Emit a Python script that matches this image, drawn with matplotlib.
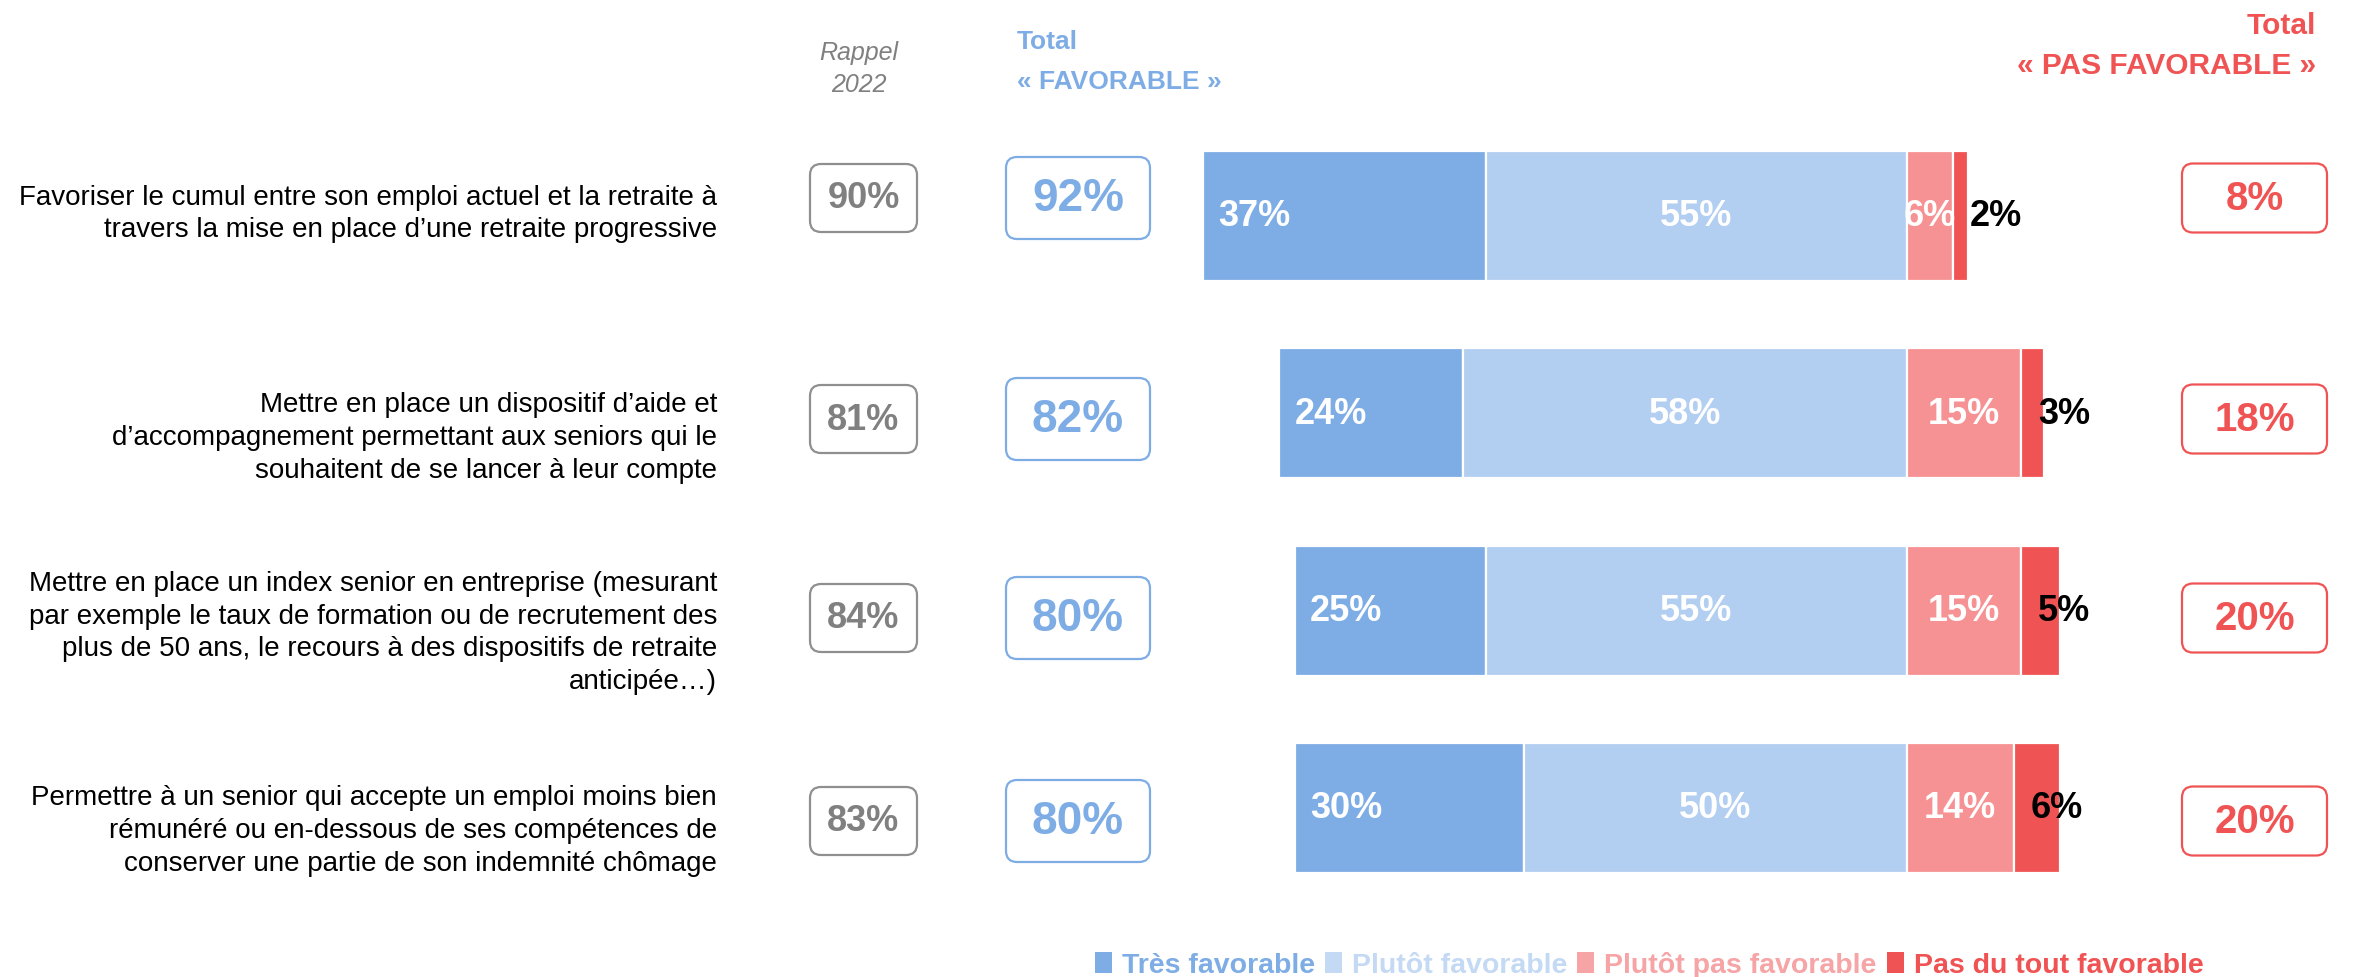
import numpy as np
import matplotlib
matplotlib.use("Agg")
import matplotlib.pyplot as plt
from matplotlib.patches import FancyBboxPatch, Patch

plt.rcParams["font.family"] = ["Liberation Sans", "DejaVu Sans"]

# ---- data -------------------------------------------------------------
questions = [
    "Favoriser le cumul entre son emploi actuel et la retraite à\n"
    "travers la mise en place d’une retraite progressive",
    "Mettre en place un dispositif d’aide et\n"
    "d’accompagnement permettant aux seniors qui le\n"
    "souhaitent de se lancer à leur compte",
    "Mettre en place un index senior en entreprise (mesurant\n"
    "par exemple le taux de formation ou de recrutement des\n"
    "plus de 50 ans, le recours à des dispositifs de retraite\n"
    "anticipée…)",
    "Permettre à un senior qui accepte un emploi moins bien\n"
    "rémunéré ou en-dessous de ses compétences de\n"
    "conserver une partie de son indemnité chômage",
]
tres_favorable = [37, 24, 25, 30]
plutot_favorable = [55, 58, 55, 50]
plutot_pas_favorable = [6, 15, 15, 14]
pas_du_tout_favorable = [2, 3, 5, 6]
rappel_2022 = [90, 81, 84, 83]

series_names = ["Très favorable", "Plutôt favorable",
                "Plutôt pas favorable", "Pas du tout favorable"]

# ---- styling ----------------------------------------------------------
C_TRES = "#7EADE6"
C_PLUTOT = "#B2CEF1"
C_PLUTOT_PAS = "#F69293"
C_PAS_DU_TOUT = "#F05353"
C_GREY = "#808080"
LEGEND_COLORS = [C_TRES, "#C4D9F4", "#F6A4A5", C_PAS_DU_TOUT]

W, H, DPI = 2361, 978, 100
PX_PER_UNIT = 7.65          # pixels per percentage point
ZERO_PX = 1906.6            # pixel column of the favourable / unfavourable split
ROW_PX, FIRST_ROW_PX = 197.3, 217.0

fig = plt.figure(figsize=(W / DPI, H / DPI), dpi=DPI)
ax = fig.add_axes([0, 0, 1, 1])
ax.set_xlim(-ZERO_PX / PX_PER_UNIT, (W - ZERO_PX) / PX_PER_UNIT)
ax.set_ylim((H - FIRST_ROW_PX) / ROW_PX, -FIRST_ROW_PX / ROW_PX)
ax.axis("off")


def px_x(px):
    return (px - ZERO_PX) / PX_PER_UNIT


def px_y(px):
    return (px - FIRST_ROW_PX) / ROW_PX


rows = np.arange(len(questions))
tres = np.array(tres_favorable)
plut = np.array(plutot_favorable)
ppas = np.array(plutot_pas_favorable)
pdt = np.array(pas_du_tout_favorable)
total_fav = tres + plut
total_pas = ppas + pdt

# ---- diverging stacked bars --------------------------------------------
bar_h = 130 / ROW_PX
left_tres = -total_fav
left_plut = left_tres + tres
left_ppas = np.zeros(len(rows))
left_pdt = ppas.astype(float)
bar_kw = dict(height=bar_h, edgecolor="white", linewidth=1.6)
ax.barh(rows, tres, left=left_tres, color=C_TRES, **bar_kw)
ax.barh(rows, plut, left=left_plut, color=C_PLUTOT, **bar_kw)
ax.barh(rows, ppas, left=left_ppas, color=C_PLUTOT_PAS, **bar_kw)
ax.barh(rows, pdt, left=left_pdt, color=C_PAS_DU_TOUT, **bar_kw)

lbl = dict(fontsize=26, fontweight="bold", va="center")
for i in rows:
    ax.text(left_tres[i] + 2.0, i, f"{tres[i]}%", color="white", ha="left", **lbl)
    ax.text(left_plut[i] + plut[i] / 2, i, f"{plut[i]}%", color="white", ha="center", **lbl)
    ax.text(left_ppas[i] + ppas[i] / 2, i, f"{ppas[i]}%", color="white", ha="center", **lbl)
    ax.text(left_pdt[i] + 2.2, i, f"{pdt[i]}%", color="black", ha="left", **lbl)

# ---- question labels ---------------------------------------------------
text_rows = [px_y(214), px_y(438), px_y(633), px_y(831)]
for i, q in enumerate(questions):
    ax.text(px_x(717), text_rows[i], q, ha="right", va="center",
            multialignment="right", fontsize=20, color="black", linespacing=1.34)

# ---- rounded boxes with totals ----------------------------------------
box_rows = [px_y(199), px_y(420), px_y(619), px_y(822)]
aspect = PX_PER_UNIT / ROW_PX


def rounded_box(xc, yc, w_px, h_px, edge, text, tcolor, size):
    w = w_px / PX_PER_UNIT
    h = h_px / ROW_PX
    patch = FancyBboxPatch((xc - w / 2, yc - h / 2), w, h,
                           boxstyle=f"round,pad=0,rounding_size={11 / PX_PER_UNIT}",
                           mutation_aspect=aspect, facecolor="white",
                           edgecolor=edge, linewidth=1.6)
    ax.add_patch(patch)
    ax.text(xc, yc, text, ha="center", va="center", color=tcolor,
            fontsize=size, fontweight="bold")


for i in rows:
    rounded_box(px_x(863.5), box_rows[i], 107, 68, "#8F8F8F",
                f"{rappel_2022[i]}%", C_GREY, 26)
    rounded_box(px_x(1078), box_rows[i], 144, 82, C_TRES,
                f"{total_fav[i]}%", C_TRES, 33)
    rounded_box(px_x(2254.5), box_rows[i], 145, 69, C_PAS_DU_TOUT,
                f"{total_pas[i]}%", C_PAS_DU_TOUT, 29)

# ---- column headers ---------------------------------------------------
ax.text(px_x(859), px_y(69), "Rappel\n2022", ha="center", va="center",
        fontsize=18, fontstyle="italic", color=C_GREY, linespacing=1.4)
ax.text(px_x(1017), px_y(62), "Total\n« FAVORABLE »", ha="left", va="center",
        multialignment="left", fontsize=19, fontweight="bold", color=C_TRES,
        linespacing=1.8)
ax.text(px_x(2316), px_y(46), "Total\n« PAS FAVORABLE »", ha="right", va="center",
        multialignment="right", fontsize=21.5, fontweight="bold",
        color=C_PAS_DU_TOUT, linespacing=1.55)

# ---- legend -----------------------------------------------------------
handles = [Patch(facecolor=c, edgecolor="none") for c in LEGEND_COLORS]
leg = fig.legend(handles, series_names, loc="center",
                 bbox_to_anchor=(1649 / W, 1 - 966 / H), ncol=4, frameon=False,
                 prop={"size": 20.5, "weight": "bold"}, handlelength=0.6,
                 handleheight=0.8, handletextpad=0.35, columnspacing=0.35)
for t, c in zip(leg.get_texts(), LEGEND_COLORS):
    t.set_color(c)

fig.savefig("out.png", dpi=DPI, facecolor="white")
